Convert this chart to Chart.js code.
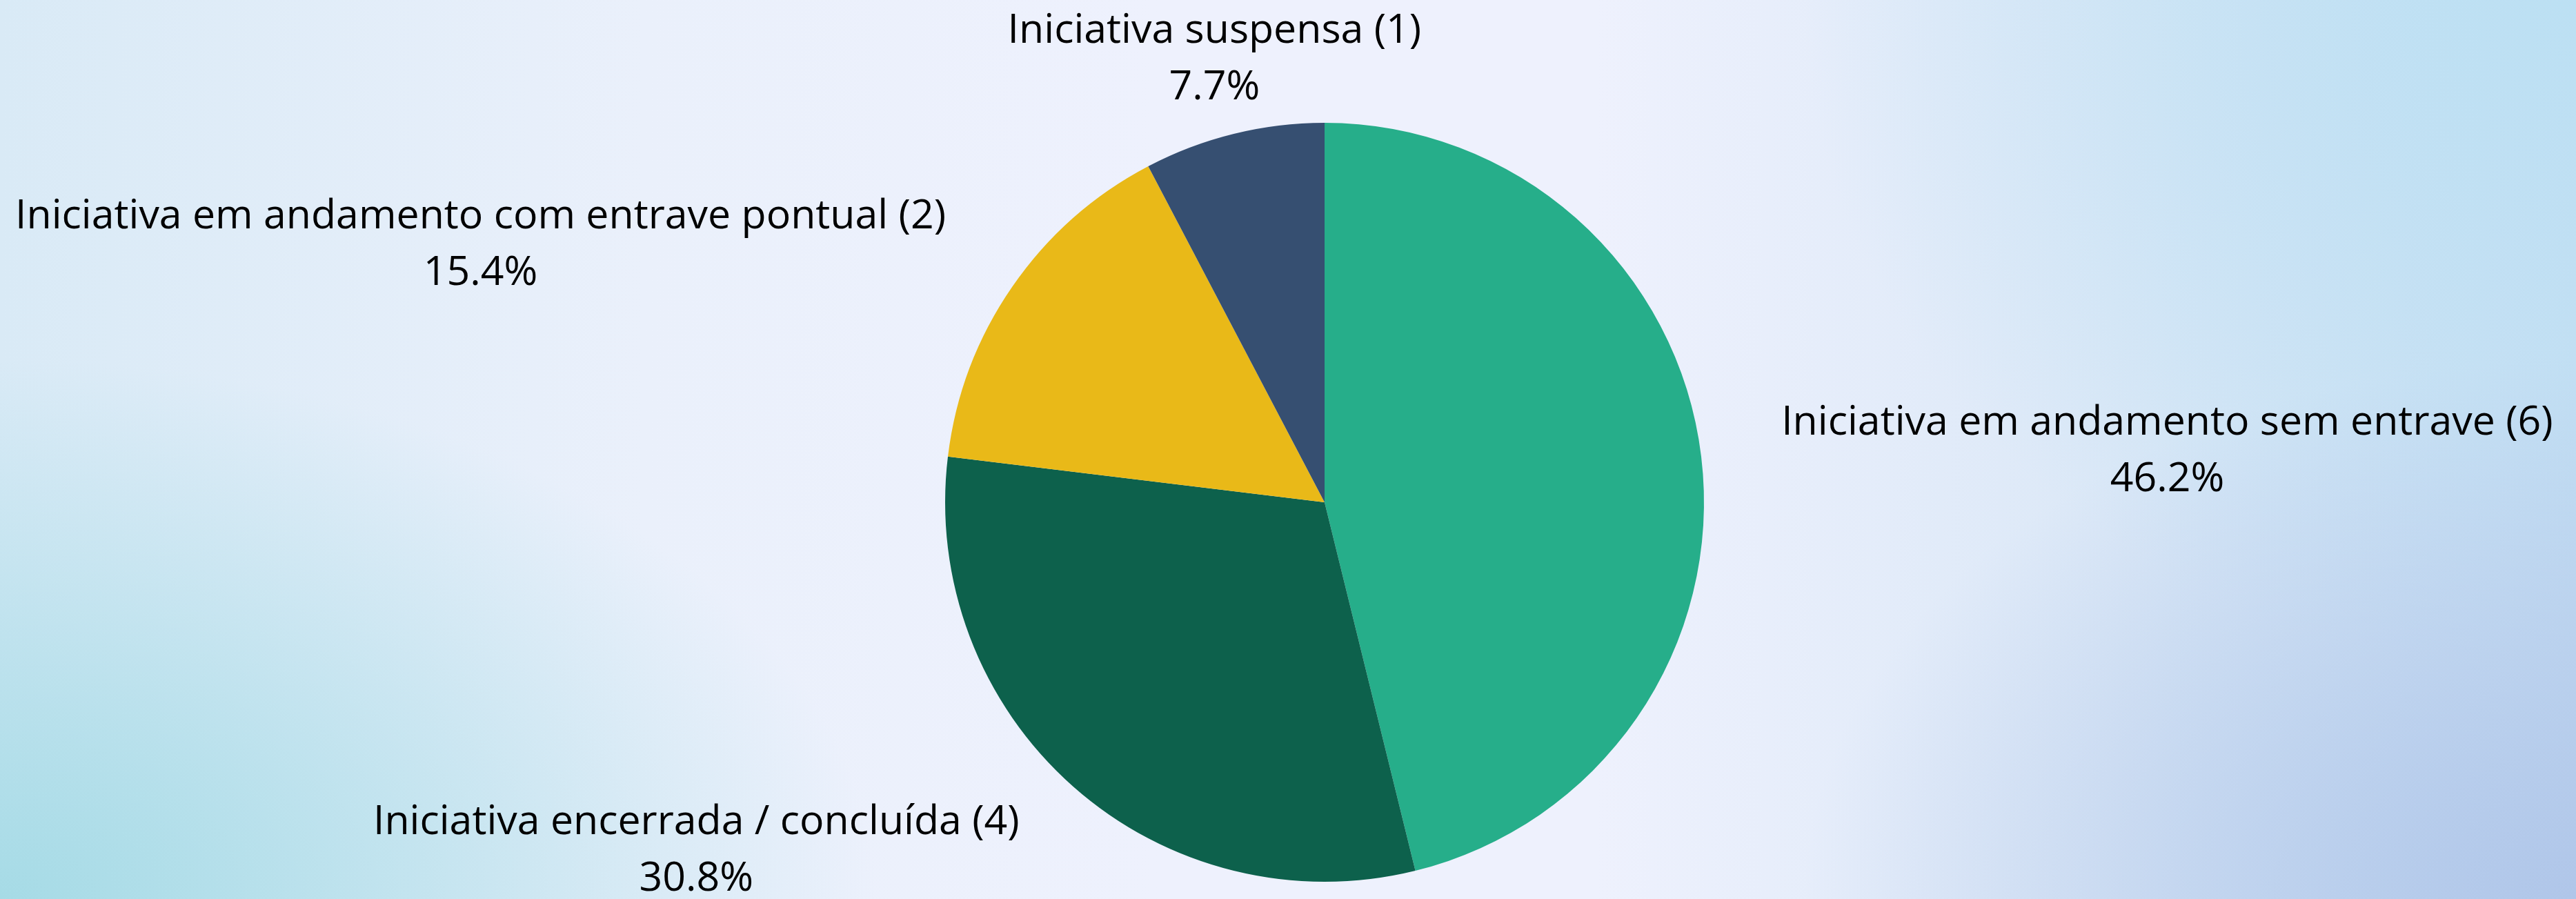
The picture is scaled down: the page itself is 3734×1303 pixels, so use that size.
<!DOCTYPE html>
<html>
<head>
<meta charset="utf-8">
<script src="https://cdn.jsdelivr.net/npm/chart.js@4.4.1/dist/chart.umd.min.js"></script>
<style>
    html, body { margin: 0; padding: 0; width: 3734px; height: 1303px; overflow: hidden; }
    body {
        background:
            radial-gradient(ellipse 34% 60% at 0% 100%, rgba(166,219,230,1) 0%, rgba(166,219,230,0) 100%),
            radial-gradient(ellipse 30% 60% at 100% 100%, rgba(176,198,233,1) 0%, rgba(176,198,233,0) 100%),
            radial-gradient(ellipse 30% 75% at 100% 0%, rgba(188,224,243,1) 0%, rgba(188,224,243,0) 100%),
            linear-gradient(90deg, #d9eaf6 0%, #eaf0fb 25%, #eef1fd 45%, #eef1fd 62%, #dbe8f7 82%, #c6def3 100%);
    }
    #wrap { position: absolute; left: 0; top: 0; width: 3734px; height: 1303px; }
</style>
</head>
<body>
<div id="wrap"><canvas id="pieChart"></canvas></div>
<script>
const labels = [
    'Iniciativa em andamento sem entrave (6)',
    'Iniciativa encerrada / concluída (4)',
    'Iniciativa em andamento com entrave pontual (2)',
    'Iniciativa suspensa (1)'
];
const counts = [6, 4, 2, 1];
const colors = ['#26ae8a', '#0d614c', '#e9b918', '#364f71'];

// outside labels: name on top, percent below
const outsideLabels = {
    id: 'outsideLabels',
    afterDatasetsDraw(chart) {
        const ctx = chart.ctx;
        const meta = chart.getDatasetMeta(0);
        const total = counts.reduce((a, b) => a + b, 0);
        ctx.save();
        ctx.font = '59px "Open Sans"';
        ctx.fillStyle = '#000';
        ctx.textBaseline = 'alphabetic';
        meta.data.forEach((arc, i) => {
            const p = arc.getProps(['x', 'y', 'startAngle', 'endAngle', 'outerRadius'], true);
            const mid = (p.startAngle + p.endAngle) / 2;
            const c = Math.cos(mid), s = Math.sin(mid);
            const r = p.outerRadius + 117;
            const ax = p.x + c * r;
            const ay = p.y + s * r;
            let align = 'center';
            if (Math.abs(c) > 0.4) align = c > 0 ? 'left' : 'right';
            const pct = (counts[i] / total * 100).toFixed(1) + '%';
            const w1 = ctx.measureText(labels[i]).width;
            const b1 = ay - 18;
            // second line is centered under the first
            let cx = ax;
            if (align === 'left') cx = ax + w1 / 2;
            if (align === 'right') cx = ax - w1 / 2;
            ctx.textAlign = 'center';
            ctx.fillText(labels[i], cx, b1);
            ctx.fillText(pct, cx, b1 + 82);
        });
        ctx.restore();
    }
};

const ctx = document.getElementById('pieChart').getContext('2d');
new Chart(ctx, {
    type: 'pie',
    data: {
        labels: labels,
        datasets: [{
            data: counts,
            backgroundColor: colors,
            borderWidth: 0
        }]
    },
    options: {
        responsive: true,
        maintainAspectRatio: false,
        animation: false,
        layout: { padding: { left: 200, right: 94, top: 178, bottom: 25 } },
        plugins: {
            legend: { display: false },
            tooltip: { enabled: false }
        }
    },
    plugins: [outsideLabels]
});
</script>
</body>
</html>
